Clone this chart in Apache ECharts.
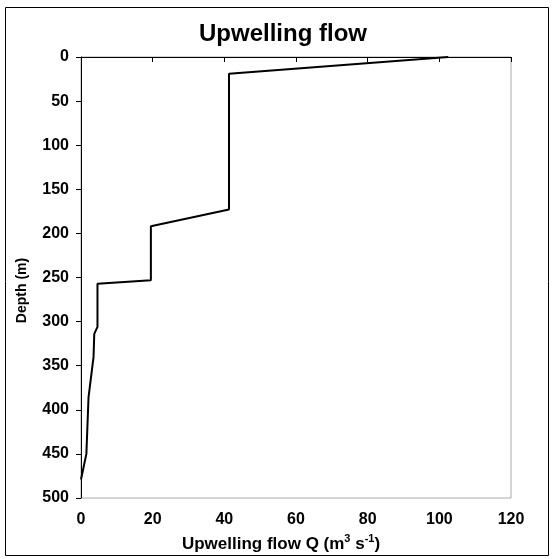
<!DOCTYPE html>
<html>
<head>
<meta charset="utf-8">
<script src="https://cdn.jsdelivr.net/npm/echarts@6/dist/echarts.min.js"></script>
<style>
html,body{margin:0;padding:0;background:#fff;}
#chart{width:552px;height:559px;}
</style>
</head>
<body>
<div id="chart"></div>
<script>
// Data
var flowQ = [102.5, 41.3, 41.3, 19.5, 19.5, 4.6, 4.6, 3.7, 3.5, 2.1, 1.5, 0];
var depthM = [0, 19, 173, 192, 253, 257, 306, 314, 340, 386, 450, 479];
var titleText = 'Upwelling flow';
var yName = 'Depth (m)';

var pts = flowQ.map(function (q, i) { return [q, depthM[i]]; });

var chart = echarts.init(document.getElementById('chart'), null, {renderer: 'canvas'});
var font = 'Liberation Sans, Arial, sans-serif';
chart.setOption({
  animation: false,
  backgroundColor: '#fff',
  title: {
    text: titleText,
    left: 278, top: 17, textAlign: 'center',
    textStyle: {fontFamily: font, fontSize: 24, fontWeight: 'bold', color: '#000'}
  },
  graphic: [{
    type: 'rect', shape: {x: 5.5, y: 7.5, width: 543, height: 548},
    style: {fill: 'none', stroke: '#000', lineWidth: 1}, z: 100
  }],
  grid: {left: 81, right: 41, top: 57, bottom: 61, show: true, borderColor: '#a8a8a8', borderWidth: 1},
  xAxis: {
    type: 'value', min: 0, max: 120, interval: 20,
    name: '{n|Upwelling flow Q (m}{s|3}{n| s}{s|-1}{n|)}',
    nameLocation: 'middle', nameGap: 35,
    nameTextStyle: {
      padding: [0, 30, 0, 0],
      rich: {
        n: {fontFamily: font, fontSize: 17, fontWeight: 'bold', color: '#000', verticalAlign: 'bottom', lineHeight: 20},
        s: {fontFamily: font, fontSize: 11, fontWeight: 'bold', color: '#000', verticalAlign: 'top', lineHeight: 20, padding: [0,0,10,0]}
      }
    },
    axisLine: {show: true, lineStyle: {color: '#000', width: 1}},
    axisTick: {show: true, inside: false, length: 5, lineStyle: {color: '#000'}},
    axisLabel: {fontFamily: font, fontSize: 16, fontWeight: 'bold', color: '#000', margin: 14},
    splitLine: {show: false}
  },
  yAxis: {
    type: 'value', inverse: true, min: 0, max: 500, interval: 50,
    name: yName, nameLocation: 'middle', nameGap: 52, nameRotate: 90,
    nameTextStyle: {fontFamily: font, fontSize: 14, fontWeight: 'bold', color: '#000', padding: [0, 26, 0, 0]},
    axisLine: {show: true, onZero: false, lineStyle: {color: '#000', width: 1}},
    axisTick: {show: true, inside: false, length: 5, lineStyle: {color: '#000'}},
    axisLabel: {fontFamily: font, fontSize: 16, fontWeight: 'bold', color: '#000', margin: 12},
    splitLine: {show: false}
  },
  series: [{
    type: 'line', data: pts, showSymbol: false, symbol: 'none',
    lineStyle: {color: '#000', width: 2}, clip: false
  }]
});
</script>
</body>
</html>
